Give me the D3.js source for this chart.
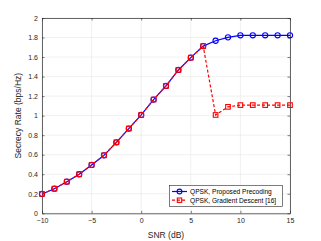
<!DOCTYPE html>
<html><head><meta charset="utf-8">
<script src="https://cdn.jsdelivr.net/npm/d3@7"></script>
<style>body{margin:0;background:#fff}svg{display:block}text{font-family:"Liberation Sans",Arial,sans-serif}</style>
</head><body><svg id="c" width="321" height="241"></svg>
<script>
const snr = [-10,-8.75,-7.5,-6.25,-5,-3.75,-2.5,-1.25,0,1.25,2.5,3.75,5,6.25,7.5,8.75,10,11.25,12.5,13.75,15];
const proposed = [0.198,0.252,0.324,0.40,0.495,0.594,0.727,0.868,1.007,1.165,1.304,1.468,1.594,1.712,1.767,1.802,1.823,1.823,1.823,1.823,1.823];
const gradient = [0.198,0.252,0.324,0.40,0.495,0.594,0.727,0.868,1.007,1.165,1.304,1.468,1.594,1.712,1.007,1.090,1.108,1.108,1.108,1.108,1.108];
const xTicks = [-10,-5,0,5,10,15];
const yTicks = [0,0.2,0.4,0.6,0.8,1,1.2,1.4,1.6,1.8,2];
const legendLabels = ["QPSK, Proposed Precoding","QPSK, Gradient Descent [16]"];

const L=42,R=290,T=18,B=213.3;
const svg=d3.select("#c");
const x=d3.scaleLinear().domain([-10,15]).range([L,R]);
const y=d3.scaleLinear().domain([0,2]).range([B,T]);
const axc="#262626", gridc="#e5e5e5";

// grid
const g=svg.append("g");
g.selectAll(".gx").data(xTicks).join("line").attr("x1",d=>x(d)).attr("x2",d=>x(d)).attr("y1",T).attr("y2",B).attr("stroke",gridc).attr("stroke-width",0.6);
g.selectAll(".gy").data(yTicks).join("line").attr("y1",d=>y(d)).attr("y2",d=>y(d)).attr("x1",L).attr("x2",R).attr("stroke",gridc).attr("stroke-width",0.6);

// axes
const xa=svg.append("g").attr("transform",`translate(0,${B})`).call(d3.axisBottom(x).tickValues(xTicks).tickSizeInner(-2.5).tickSizeOuter(0).tickPadding(5).tickFormat(d3.format("d")));
const xt=svg.append("g").attr("transform",`translate(0,${T})`).call(d3.axisTop(x).tickValues(xTicks).tickSizeInner(-2.5).tickSizeOuter(0).tickFormat(""));
const ya=svg.append("g").attr("transform",`translate(${L},0)`).call(d3.axisLeft(y).tickValues(yTicks).tickSizeInner(-2.5).tickSizeOuter(0).tickPadding(4).tickFormat(d=>d3.format("~g")(d)));
const yr=svg.append("g").attr("transform",`translate(${R},0)`).call(d3.axisRight(y).tickValues(yTicks).tickSizeInner(-2.5).tickSizeOuter(0).tickFormat(""));
[xa,xt,ya,yr].forEach(a=>{a.select(".domain").attr("stroke",axc).attr("stroke-width",0.7);a.selectAll(".tick line").attr("stroke",axc).attr("stroke-width",0.6);a.selectAll("text").attr("font-size",7).attr("fill",axc);});
xa.selectAll("text").attr("dy","0.71em");

// lines
const line=d3.line().x((d,i)=>x(snr[i])).y(d=>y(d));
svg.append("path").datum(proposed).attr("d",line).attr("fill","none").attr("stroke","#0000ff").attr("stroke-width",1.2);
svg.append("g").selectAll("circle").data(proposed).join("circle").attr("cx",(d,i)=>x(snr[i])).attr("cy",d=>y(d)).attr("r",2.6).attr("fill","none").attr("stroke","#0000ff").attr("stroke-width",1.1);
svg.append("path").datum(gradient).attr("d",line).attr("fill","none").attr("stroke","#ff0000").attr("stroke-width",1.2).attr("stroke-dasharray","3,2");
svg.append("g").selectAll("rect").data(gradient).join("rect").attr("x",(d,i)=>x(snr[i])-2.3).attr("y",d=>y(d)-2.3).attr("width",4.6).attr("height",4.6).attr("fill","none").attr("stroke","#ff0000").attr("stroke-width",1.1);

// labels
svg.append("text").attr("x",(L+R)/2).attr("y",238).attr("text-anchor","middle").attr("font-size",8.5).attr("fill",axc).text("SNR (dB)");
svg.append("text").attr("transform",`translate(21,${(T+B)/2}) rotate(-90)`).attr("text-anchor","middle").attr("font-size",8.5).attr("fill",axc).text("Secrecy Rate (bps/Hz)");

// legend
const lg=svg.append("g");
lg.append("rect").attr("x",169.5).attr("y",185.5).attr("width",113).attr("height",21).attr("fill","#fff").attr("stroke",axc).attr("stroke-width",0.6);
const cols=["#0000ff","#ff0000"];
legendLabels.forEach((t,i)=>{
  const yy=191.5+i*8.7;
  lg.append("line").attr("x1",172).attr("x2",187).attr("y1",yy).attr("y2",yy).attr("stroke",cols[i]).attr("stroke-width",1.2).attr("stroke-dasharray",i?"3,2":null);
  if(i===0) lg.append("circle").attr("cx",179.5).attr("cy",yy).attr("r",2.4).attr("fill","none").attr("stroke",cols[i]).attr("stroke-width",1.1);
  else lg.append("rect").attr("x",177.3).attr("y",yy-2.2).attr("width",4.4).attr("height",4.4).attr("fill","none").attr("stroke",cols[i]).attr("stroke-width",1.1);
  lg.append("text").attr("x",190).attr("y",yy).attr("dy","0.35em").attr("font-size",6.6).attr("fill","#000").text(t);
});
</script></body></html>
